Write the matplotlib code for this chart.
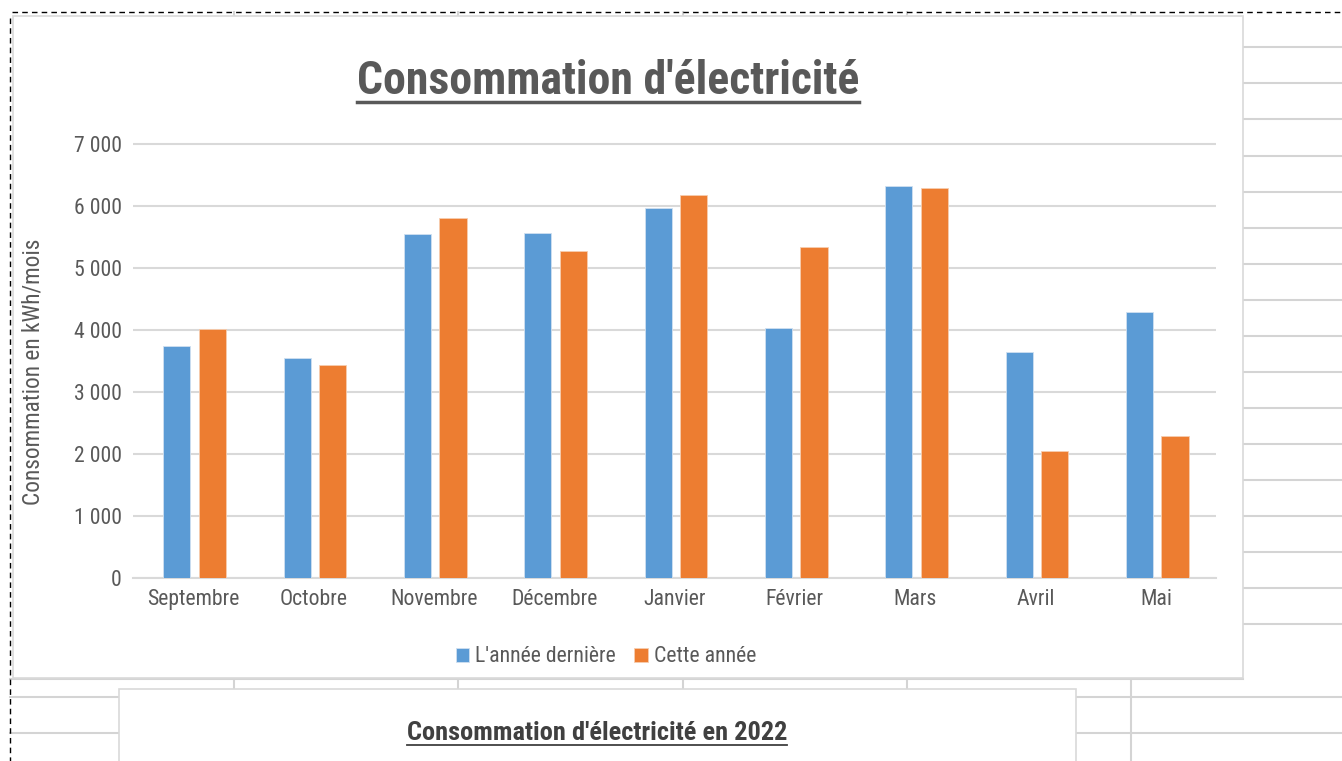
import matplotlib
matplotlib.use("Agg")
import matplotlib.pyplot as plt
from matplotlib.lines import Line2D
from matplotlib.patches import Rectangle
from matplotlib.font_manager import fontManager
import numpy as np

categories = ["Septembre", "Octobre", "Novembre", "Décembre", "Janvier",
              "Février", "Mars", "Avril", "Mai"]
last_year = [3750, 3555, 5545, 5570, 5975, 4035, 6325, 3640, 4285]
this_year = [4020, 3440, 5800, 5280, 6180, 5340, 6290, 2055, 2285]
series_names = ["L'année dernière", "Cette année"]
yticks = [0, 1000, 2000, 3000, 4000, 5000, 6000, 7000]
ytick_labels = ["0", "1 000", "2 000", "3 000", "4 000", "5 000", "6 000", "7 000"]
title = "Consommation d'électricité"
ylabel = "Consommation en kWh/mois"
title2 = "Consommation d'électricité en 2022"

names = {f.name for f in fontManager.ttflist}
FAM = [n for n in ["Liberation Sans Narrow", "Roboto Condensed", "Arial Narrow"] if n in names]
NARROW = bool(FAM)
FAM = FAM + ["Liberation Sans", "DejaVu Sans"]
plt.rcParams["font.family"] = FAM

W, H = 1342, 761
fig = plt.figure(figsize=(W / 100, H / 100), dpi=100)
fig.patch.set_facecolor("white")

def fx(x):
    return x / W

def fy(y):
    return 1 - y / H

GRID = "#d4d4d4"
TXT = "#595959"

def hline(y, x0, x1, color=GRID, lw=1.5, ls="-", z=0):
    fig.add_artist(Line2D([fx(x0), fx(x1)], [fy(y), fy(y)], color=color, lw=lw, ls=ls, zorder=z))

def vline(x, y0, y1, color=GRID, lw=1.5, ls="-", z=0):
    fig.add_artist(Line2D([fx(x), fx(x)], [fy(y0), fy(y1)], color=color, lw=lw, ls=ls, zorder=z))

# spreadsheet grid on the right
for k in range(17):
    y = 47.3 + 36.07 * k
    hline(y, 1243, W)
# rows left / right of second chart
for y in [696.7, 732.7]:
    hline(y, 10, 119)
    hline(y, 1076, W)
# row line under first chart
hline(678.5, 10, 1243)
# column lines
for xc in [234, 458, 683, 907]:
    vline(xc, 678, 689)
    vline(xc, 12, 16)
vline(1131, 678, H)
vline(1131, 12, 16)

# first chart box
fig.add_artist(Rectangle((fx(13), fy(678)), fx(1243) - fx(13), fy(15.5) - fy(678),
                         facecolor="white", edgecolor="#d9d9d9", lw=1.2, zorder=1))
# second chart box
fig.add_artist(Rectangle((fx(119), fy(H + 5)), fx(1076) - fx(119), fy(689) - fy(H + 5),
                         facecolor="white", edgecolor="#d9d9d9", lw=1.2, zorder=1))

# dashed selection border
hline(11.7, 12, W, color="black", lw=1.0, ls=(0, (4, 3)), z=5)
vline(10, 18, H, color="black", lw=1.0, ls=(0, (4, 3)), z=5)

fs_tick = 15.7 if NARROW else 14
fs_ylab = 16.8 if NARROW else 14.7
fs_leg = 15.7 if NARROW else 13.4
fs_title = 33 if NARROW else 27.8
fs_title2 = 19 if NARROW else 16.3

# plot axes
top_px = 144 - 100 * 0.062
ax = fig.add_axes([fx(133), fy(578), fx(1216) - fx(133), fy(top_px) - fy(578)])
ax.set_zorder(3)
ax.patch.set_alpha(0)
x = np.arange(len(categories))
bw = 0.225
off = 0.147
ax.bar(x - off + 0.012, last_year, bw, color="#5B9BD5", edgecolor="#cfe0f1", lw=0.6,
       label=series_names[0], zorder=3)
ax.bar(x + off + 0.012, this_year, bw, color="#ED7D31", edgecolor="#f7cdb0", lw=0.6,
       label=series_names[1], zorder=3)
ax.set_xlim(-0.5, len(categories) - 0.5)
ax.set_ylim(0, 7100)
ax.set_yticks(yticks)
ax.set_yticklabels(ytick_labels)
ax.set_xticks(x)
ax.set_xticklabels(categories)
ax.grid(axis="y", color="#d9d9d9", lw=1.5, zorder=0)
ax.set_axisbelow(True)
for s in ["top", "right", "left"]:
    ax.spines[s].set_visible(False)
ax.spines["bottom"].set_color("#d9d9d9")
ax.spines["bottom"].set_linewidth(1.5)
ax.tick_params(axis="both", length=0, colors=TXT, labelsize=fs_tick)
ax.tick_params(axis="y", pad=8)
ax.tick_params(axis="x", pad=8)
fig.text(fx(33), fy(372), ylabel, rotation=90, ha="center", va="center", color=TXT,
         fontsize=fs_ylab)

fig.legend(loc="center", bbox_to_anchor=(fx(606), fy(657)), ncol=2, frameon=False,
           fontsize=fs_leg, handlelength=0.6, handleheight=0.6, handletextpad=0.3,
           columnspacing=0.85, labelcolor=TXT)

t1 = fig.text(fx(608), fy(93.5), title, ha="center", va="baseline", color=TXT,
              fontsize=fs_title, fontweight="bold", zorder=4)
t2 = fig.text(fx(597), fy(740), title2, ha="center", va="baseline", color="#404040",
              fontsize=fs_title2, fontweight="bold", zorder=4)

fig.canvas.draw()
r = fig.canvas.get_renderer()
for t, base, dy, lw in [(t1, 93.5, 8.5, 2.5), (t2, 740, 5, 1.3)]:
    bb = t.get_window_extent(r)
    yb = fy(base) - dy / H
    fig.add_artist(Line2D([bb.x0 / W, bb.x1 / W], [yb, yb], color=t.get_color(), lw=lw, zorder=4))

fig.savefig("out.png", dpi=100, facecolor="white")
